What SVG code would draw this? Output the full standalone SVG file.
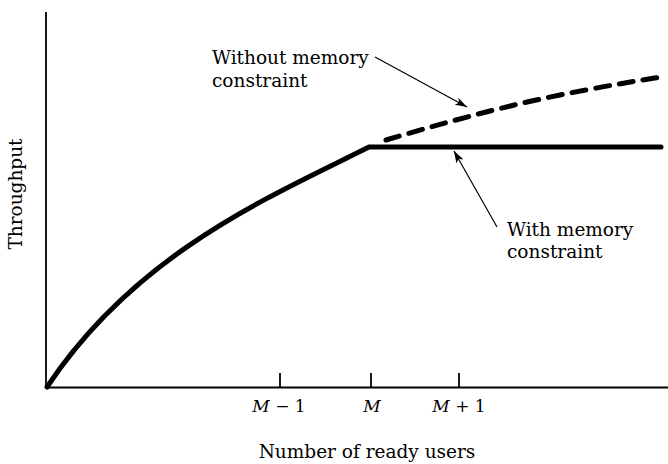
<svg xmlns="http://www.w3.org/2000/svg" width="668" height="464" viewBox="0 0 668 464">
<style>
text{font-family:"DejaVu Serif","Liberation Serif",serif;fill:#000;font-size:18.5px}
.ax{stroke:#000;stroke-width:1.8;fill:none}
.curve{stroke:#000;stroke-width:5;fill:none;stroke-linecap:round;stroke-linejoin:round}
.lead{stroke:#000;stroke-width:1.2;fill:none}
.it{font-style:italic}
.tick{font-size:17px}
</style>
<defs>
<marker id="ah" viewBox="0 0 12 8" refX="12" refY="4" markerWidth="12" markerHeight="8" markerUnits="userSpaceOnUse" orient="auto">
<path d="M0,0 L12,4 L0,8 L3,4 Z" fill="#000"/>
</marker>
</defs>
<g id="axes">
<line class="ax" x1="46" y1="12" x2="46" y2="388"/>
<line class="ax" x1="46" y1="387.5" x2="668" y2="387.5"/>
<line class="ax" x1="280" y1="373" x2="280" y2="388" stroke-width="1.2"/>
<line class="ax" x1="371" y1="373" x2="371" y2="388" stroke-width="1.2"/>
<line class="ax" x1="459" y1="373" x2="459" y2="388" stroke-width="1.2"/>
<text class="tick" x="279" y="412" text-anchor="middle"><tspan class="it">M</tspan> − 1</text>
<text class="tick it" x="372" y="412" text-anchor="middle">M</text>
<text class="tick" x="459" y="412" text-anchor="middle"><tspan class="it">M</tspan> + 1</text>
<text x="367" y="458" text-anchor="middle" font-size="19.5">Number of ready users</text>
<text transform="translate(22,194) rotate(-90)" text-anchor="middle" font-size="17.5">Throughput</text>
</g>
<g id="curve-with">
<path class="curve" d="M47,387 C136,253 269,197 369,147 L661,147" stroke-width="4.5"/>
</g>
<g id="curve-without">
<path class="curve" d="M386,140 C440,124 500,107 560,95 C600,87 630,82 661,77" stroke-dasharray="14,10"/>
</g>
<g id="label-without">
<text x="212" y="64">Without memory</text>
<text x="212" y="87">constraint</text>
</g>
<g id="label-with">
<text x="507" y="236">With memory</text>
<text x="507" y="258">constraint</text>
</g>
<g id="connectors">
<line class="lead" x1="375" y1="57" x2="467" y2="107" marker-end="url(#ah)"/>
<line class="lead" x1="497" y1="227" x2="454" y2="151" marker-end="url(#ah)"/>
</g>
</svg>
